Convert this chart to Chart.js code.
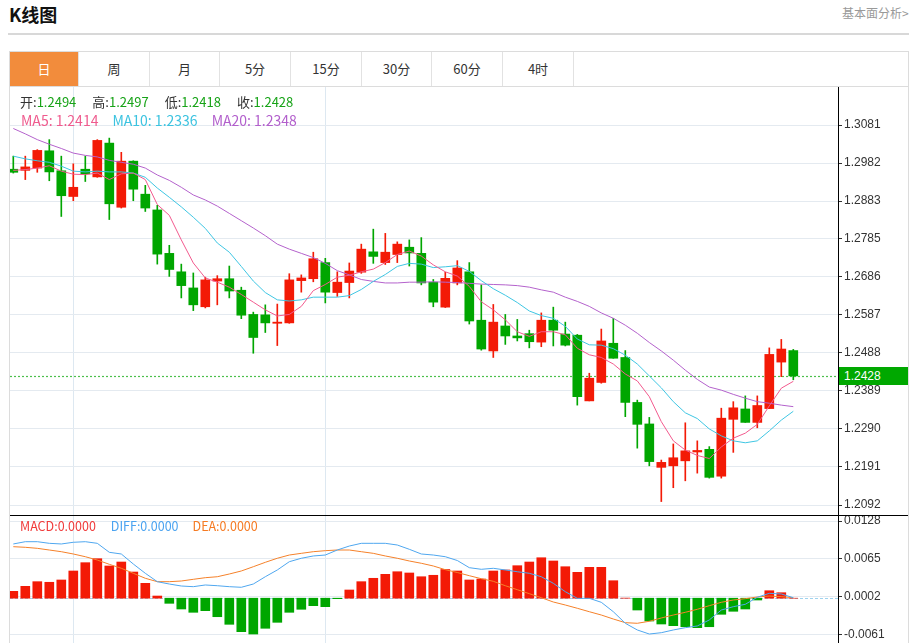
<!DOCTYPE html>
<html lang="zh-CN">
<head>
<meta charset="utf-8">
<title>K线图</title>
<script src="https://cdn.jsdelivr.net/npm/chart.js@4.4.1/dist/chart.umd.min.js"></script>
<style>
  html, body { margin:0; padding:0; background:#fff; width:916px; height:643px; overflow:hidden;
    font-family:"Noto Sans CJK SC","Noto Sans",sans-serif; }
  .abs { position:absolute; }
  #title { left:9px; top:2px; font-size:18px; font-weight:bold; color:#111; line-height:24px; }
  #more { left:842px; top:4px; font-size:12px; color:#999; line-height:18px; }
  #hr { left:8px; top:33px; width:901px; height:2px; background:#d8d8d8; }
  #frame { left:9px; top:51px; width:900px; height:640px; border:1px solid #dcdcdc; box-sizing:border-box; }
  #tabs { left:10px; top:52px; height:35px; width:898px; border-bottom:1px solid #dcdcdc; box-sizing:border-box; }
  .tab { position:absolute; top:0; height:34px; line-height:34px; text-align:center; font-size:13px; color:#333;
    border-right:1px solid #e2e2e2; box-sizing:border-box; }
  .tab.on { background:#f28c3c; color:#fff; }
  .lg { position:absolute; white-space:nowrap; z-index:5; }
  .lg span.k { color:#333; }
  .lg span.v { color:#17a317; margin-right:16px; }
  #row1 { left:20px; top:93px; font-size:13px; line-height:18px; }
  #row2 { left:21px; top:111px; font-size:14px; line-height:19px; }
  #row3 { left:20px; top:517px; font-size:12.5px; line-height:18px; }
  #pbox { position:absolute; left:839px; width:69px; height:18px; line-height:18px; background:#00a800;
    color:#fff; font-family:"Liberation Sans",sans-serif; font-size:12px; padding-left:5px; box-sizing:border-box; z-index:5; }
</style>
</head>
<body>
<div id="title" class="abs">K线图</div>
<div id="more" class="abs">基本面分析&gt;</div>
<div id="hr" class="abs"></div>
<div id="frame" class="abs"></div>
<div id="tabs" class="abs">
  <div class="tab on" style="left:0;width:69px">日</div>
  <div class="tab" style="left:69px;width:71px">周</div>
  <div class="tab" style="left:140px;width:70px">月</div>
  <div class="tab" style="left:210px;width:71px">5分</div>
  <div class="tab" style="left:281px;width:71px">15分</div>
  <div class="tab" style="left:352px;width:70px">30分</div>
  <div class="tab" style="left:422px;width:71px">60分</div>
  <div class="tab" style="left:493px;width:71px">4时</div>
</div>
<canvas id="pc" class="abs" width="898" height="428" style="left:10px;top:87px"></canvas>
<div class="abs" style="left:10px;top:515px;width:898px;height:1px;background:#000"></div>
<canvas id="mc" class="abs" width="898" height="134" style="left:10px;top:516px"></canvas>
<div id="row1" class="lg"></div>
<div id="row2" class="lg"></div>
<div id="row3" class="lg"></div>
<div id="pbox"></div>
<script>
// ---------- data ----------
const opens = [1.2966,1.2963,1.2969,1.3014,1.2962,1.2895,1.2966,1.2946,1.3034,1.2867,
  1.2987,1.2901,1.2860,1.2747,1.2699,1.2657,1.2608,1.2675,1.2681,1.2651,
  1.2588,1.2587,1.2565,1.2566,1.2676,1.2681,1.2723,1.2645,1.2671,1.2698,
  1.2751,1.2723,1.2744,1.2763,1.2747,1.2672,1.2607,1.2670,1.2699,1.2573,
  1.2493,1.2558,1.2532,1.2538,1.2516,1.2573,1.2537,1.2534,1.2363,1.2411,
  1.2513,1.2476,1.2359,1.2303,1.2190,1.2194,1.2207,1.2230,1.2237,1.2167,
  1.2315,1.2342,1.2307,1.2343,1.2464,1.2494];
const highs = [1.3000,1.3000,1.3017,1.3043,1.3000,1.2980,1.3000,1.3043,1.3047,1.3010,
  1.2988,1.2924,1.2872,1.2768,1.2719,1.2696,1.2685,1.2689,1.2714,1.2659,
  1.2594,1.2613,1.2615,1.2694,1.2691,1.2750,1.2734,1.2699,1.2722,1.2771,
  1.2810,1.2799,1.2777,1.2782,1.2788,1.2679,1.2698,1.2728,1.2723,1.2665,
  1.2614,1.2588,1.2575,1.2547,1.2592,1.2607,1.2568,1.2536,1.2435,1.2550,
  1.2578,1.2494,1.2365,1.2320,1.2209,1.2251,1.2306,1.2259,1.2244,1.2344,
  1.2361,1.2376,1.2376,1.2501,1.2523,1.2497];
const lows = [1.2956,1.2939,1.2958,1.2936,1.2843,1.2884,1.2934,1.2945,1.2835,1.2865,
  1.2884,1.2856,1.2719,1.2687,1.2631,1.2598,1.2605,1.2613,1.2631,1.2577,
  1.2487,1.2541,1.2507,1.2565,1.2646,1.2673,1.2618,1.2635,1.2631,1.2695,
  1.2721,1.2718,1.2723,1.2714,1.2665,1.2608,1.2606,1.2665,1.2563,1.2495,
  1.2476,1.2510,1.2519,1.2501,1.2504,1.2506,1.2506,1.2352,1.2363,1.2409,
  1.2474,1.2322,1.2240,1.2194,1.2101,1.2137,1.2155,1.2175,1.2162,1.2162,
  1.2229,1.2307,1.2293,1.2343,1.2426,1.2418];
const closes = [1.2958,1.2972,1.3015,1.2959,1.2897,1.2919,1.2954,1.3041,1.2876,1.2987,
  1.2914,1.2865,1.2745,1.2705,1.2663,1.2613,1.2678,1.2681,1.2649,1.2586,
  1.2528,1.2566,1.2568,1.2678,1.2683,1.2733,1.2646,1.2672,1.2701,1.2758,
  1.2739,1.2750,1.2771,1.2748,1.2670,1.2620,1.2682,1.2709,1.2571,1.2498,
  1.2568,1.2532,1.2527,1.2517,1.2573,1.2547,1.2508,1.2374,1.2422,1.2519,
  1.2474,1.2359,1.2302,1.2205,1.2203,1.2215,1.2233,1.2234,1.2164,1.2318,
  1.2345,1.2307,1.2351,1.2484,1.2498,1.2428];
const ma5 = [1.2963,1.2965,1.2969,1.2975,1.2961,1.2953,1.2952,1.2956,1.2939,1.2954,
  1.2956,1.2939,1.2874,1.2846,1.2782,1.2722,1.2683,1.2672,1.2659,1.2640,
  1.2620,1.2600,1.2584,1.2588,1.2609,1.2650,1.2666,1.2685,1.2690,1.2699,
  1.2706,1.2723,1.2744,1.2753,1.2740,1.2717,1.2699,1.2688,1.2661,1.2621,
  1.2600,1.2574,1.2543,1.2531,1.2543,1.2543,1.2535,1.2500,1.2483,1.2476,
  1.2459,1.2433,1.2415,1.2374,1.2309,1.2259,1.2235,1.2221,1.2213,1.2243,
  1.2266,1.2279,1.2302,1.2350,1.2396,1.2414];
const ma10 = [1.3000,1.2993,1.2988,1.2984,1.2974,1.2961,1.2959,1.2961,1.2959,1.2959,
  1.2956,1.2945,1.2917,1.2893,1.2868,1.2841,1.2812,1.2774,1.2750,1.2713,
  1.2675,1.2645,1.2626,1.2623,1.2626,1.2633,1.2633,1.2633,1.2637,1.2653,
  1.2674,1.2692,1.2713,1.2721,1.2719,1.2710,1.2712,1.2715,1.2700,1.2676,
  1.2655,1.2638,1.2619,1.2597,1.2585,1.2578,1.2557,1.2524,1.2509,1.2508,
  1.2499,1.2482,1.2459,1.2428,1.2397,1.2361,1.2332,1.2317,1.2290,1.2272,
  1.2259,1.2254,1.2259,1.2285,1.2313,1.2336];
const ma20 = [1.3072,1.3058,1.3043,1.3031,1.3020,1.3008,1.3002,1.2998,1.2989,1.2984,
  1.2979,1.2969,1.2951,1.2937,1.2919,1.2899,1.2886,1.2870,1.2851,1.2832,
  1.2813,1.2793,1.2771,1.2758,1.2747,1.2736,1.2721,1.2702,1.2691,1.2679,
  1.2674,1.2670,1.2670,1.2672,1.2672,1.2673,1.2672,1.2671,1.2669,1.2667,
  1.2666,1.2665,1.2663,1.2659,1.2652,1.2646,1.2633,1.2622,1.2609,1.2592,
  1.2578,1.2560,1.2539,1.2515,1.2493,1.2469,1.2443,1.2419,1.2399,1.2391,
  1.2380,1.2370,1.2361,1.2357,1.2352,1.2348];
const macd = [0.00114,0.00197,0.00274,0.00264,0.00302,0.00451,0.00589,0.00655,0.00534,0.00600,
  0.00434,0.00247,0.00036,-0.00085,-0.00179,-0.00234,-0.00207,-0.00307,-0.00433,-0.00555,
  -0.00594,-0.00499,-0.00400,-0.00234,-0.00184,-0.00124,-0.00141,-0.00008,0.00136,0.00274,
  0.00330,0.00396,0.00439,0.00418,0.00356,0.00380,0.00476,0.00451,0.00302,0.00318,
  0.00451,0.00468,0.00539,0.00600,0.00671,0.00617,0.00522,0.00429,0.00512,0.00512,
  0.00290,0.00002,-0.00196,-0.00378,-0.00428,-0.00456,-0.00473,-0.00489,-0.00473,-0.00267,
  -0.00217,-0.00179,-0.00030,0.00124,0.00091,0];
const diff = [0.00899,0.00937,0.00937,0.00910,0.00899,0.00927,0.00937,0.00910,0.00761,0.00733,
  0.00567,0.00413,0.00274,0.00235,0.00202,0.00191,0.00219,0.00207,0.00191,0.00181,
  0.00235,0.00356,0.00468,0.00605,0.00662,0.00700,0.00716,0.00799,0.00865,0.00910,
  0.00910,0.00910,0.00882,0.00811,0.00733,0.00716,0.00688,0.00625,0.00506,0.00479,
  0.00496,0.00468,0.00439,0.00413,0.00356,0.00247,0.00108,-0.00002,-0.00002,-0.00068,
  -0.00224,-0.00416,-0.00527,-0.00594,-0.00572,-0.00527,-0.00489,-0.00461,-0.00361,-0.00196,
  -0.00141,-0.00101,0.00015,0.00081,0.00070,0.00008];
const dea = [0.00854,0.00844,0.00827,0.00799,0.00771,0.00733,0.00688,0.00633,0.00562,0.00496,
  0.00413,0.00330,0.00274,0.00274,0.00285,0.00313,0.00340,0.00356,0.00401,0.00451,
  0.00522,0.00595,0.00662,0.00716,0.00744,0.00771,0.00788,0.00799,0.00799,0.00771,
  0.00744,0.00700,0.00662,0.00617,0.00579,0.00534,0.00473,0.00426,0.00373,0.00323,
  0.00280,0.00207,0.00141,0.00075,0.00008,-0.00063,-0.00113,-0.00167,-0.00224,-0.00279,
  -0.00345,-0.00406,-0.00416,-0.00383,-0.00328,-0.00279,-0.00234,-0.00184,-0.00124,-0.00068,
  -0.00030,-0.00008,0.00020,0.00036,0.00025,0.00008];
const priceTicks = [1.2092,1.2191,1.2290,1.2389,1.2488,1.2587,1.2686,1.2785,1.2883,1.2982,1.3081];
const macdTicks = [-0.0061,0.0002,0.0065,0.0128];
const gridDays = [5, 26];

// ---------- styles ----------
const UP = '#f31a06', DOWN = '#00a600';
const N = opens.length;
const idx = opens.map((_, i) => i);
const candleColors = idx.map(i => closes[i] >= opens[i] ? UP : DOWN);
const macdColors = macd.map(v => v >= 0 ? UP : DOWN);
const tickFont = { family: 'Liberation Sans', size: 12 };

function xScale() {
  return {
    type: 'linear', min: -0.275, max: 68.725, offset: false,
    afterBuildTicks: s => { s.ticks = gridDays.map(v => ({ value: v })); },
    afterFit: s => { s.height = 0; s.paddingLeft = 0; s.paddingRight = 0; },
    ticks: { display: false },
    grid: { color: '#dde8f1', drawTicks: false, offset: false },
    border: { display: false }
  };
}
function yScale(min, max, ticks) {
  return {
    position: 'right', min: min, max: max,
    afterBuildTicks: s => { s.ticks = ticks.map(v => ({ value: v })); },
    afterFit: s => { s.width = 70; s.paddingTop = 0; s.paddingBottom = 0; },
    ticks: { color: '#333', font: tickFont, padding: 2, callback: v => Number(v).toFixed(4) },
    grid: { color: '#e4eaf0', tickColor: '#333', tickLength: 4 },
    border: { color: '#000', width: 1 }
  };
}
const common = {
  responsive: false, animation: false, events: [],
  layout: { padding: 0 },
  plugins: { legend: { display: false }, tooltip: { enabled: false } }
};

const lastLine = {
  id: 'lastLine',
  beforeDatasetsDraw(chart) {
    const { ctx, chartArea, scales } = chart;
    const y = Math.round(scales.y.getPixelForValue(closes[N - 1])) + 0.5;
    ctx.save();
    ctx.strokeStyle = '#4cbf4c'; ctx.lineWidth = 1.2; ctx.setLineDash([2, 2]);
    ctx.beginPath(); ctx.moveTo(chartArea.left, y); ctx.lineTo(chartArea.right, y); ctx.stroke();
    ctx.restore();
  }
};
const zeroLine = {
  id: 'zeroLine',
  beforeDatasetsDraw(chart) {
    const { ctx, chartArea, scales } = chart;
    const y = Math.round(scales.y.getPixelForValue(0)) + 0.5;
    ctx.save();
    ctx.strokeStyle = '#9fd3ef'; ctx.lineWidth = 1; ctx.setLineDash([3, 2]);
    ctx.beginPath(); ctx.moveTo(chartArea.left, y); ctx.lineTo(chartArea.right, y); ctx.stroke();
    ctx.restore();
  }
};

const pts = arr => arr.map((v, i) => ({ x: i, y: v }));
const line = (arr, color, order) => ({ type: 'line', data: pts(arr), borderColor: color, borderWidth: 1,
  pointRadius: 0, tension: 0, order: order, clip: 0 });

const priceChart = new Chart(document.getElementById('pc'), {
  type: 'bar',
  data: {
    datasets: [
      line(ma5, '#f25a8e', 1),
      line(ma10, '#3fc6e3', 1),
      line(ma20, '#b462cc', 1),
      { type: 'bar', data: idx.map(i => ({ x: i, y: [opens[i], closes[i]] })), backgroundColor: candleColors,
        barThickness: 9, grouped: false, minBarLength: 1, borderWidth: 0, borderSkipped: false, order: 2 },
      { type: 'bar', data: idx.map(i => ({ x: i, y: [lows[i], highs[i]] })), backgroundColor: candleColors,
        barThickness: 1, grouped: false, borderWidth: 0, borderSkipped: false, order: 3 }
    ]
  },
  options: Object.assign({}, common, {
    scales: { x: xScale(), y: yScale(1.2066, 1.3180, priceTicks) }
  }),
  plugins: [lastLine]
});

const macdChart = new Chart(document.getElementById('mc'), {
  type: 'bar',
  data: {
    datasets: [
      line(diff, '#4fa7ef', 1),
      line(dea, '#f5812a', 1),
      { type: 'bar', data: pts(macd), backgroundColor: macdColors, barThickness: 9, grouped: false,
        borderWidth: 0, borderSkipped: false, order: 2 }
    ]
  },
  options: Object.assign({}, common, {
    scales: { x: xScale(), y: yScale(-0.00859, 0.01363, macdTicks) }
  }),
  plugins: [zeroLine]
});

// ---------- legends (real text) ----------
const f4 = v => v.toFixed(4);
document.getElementById('row1').innerHTML =
  '<span class="k">开:</span><span class="v">' + f4(opens[N-1]) + '</span>' +
  '<span class="k">高:</span><span class="v">' + f4(highs[N-1]) + '</span>' +
  '<span class="k">低:</span><span class="v">' + f4(lows[N-1]) + '</span>' +
  '<span class="k">收:</span><span class="v">' + f4(closes[N-1]) + '</span>';
document.getElementById('row2').innerHTML =
  '<span style="color:#ef5b8e;margin-right:14px">MA5: ' + f4(ma5[N-1]) + '</span>' +
  '<span style="color:#3cc3e0;margin-right:14px">MA10: ' + f4(ma10[N-1]) + '</span>' +
  '<span style="color:#b25fcc">MA20: ' + f4(ma20[N-1]) + '</span>';
document.getElementById('row3').innerHTML =
  '<span style="color:#f03a3a;margin-right:15px">MACD:0.0000</span>' +
  '<span style="color:#4aa3f0;margin-right:14px">DIFF:0.0000</span>' +
  '<span style="color:#f57a22">DEA:0.0000</span>';
const pbox = document.getElementById('pbox');
pbox.textContent = f4(closes[N-1]);
pbox.style.top = (87 + priceChart.scales.y.getPixelForValue(closes[N-1]) - 9) + 'px';
</script>
</body>
</html>
